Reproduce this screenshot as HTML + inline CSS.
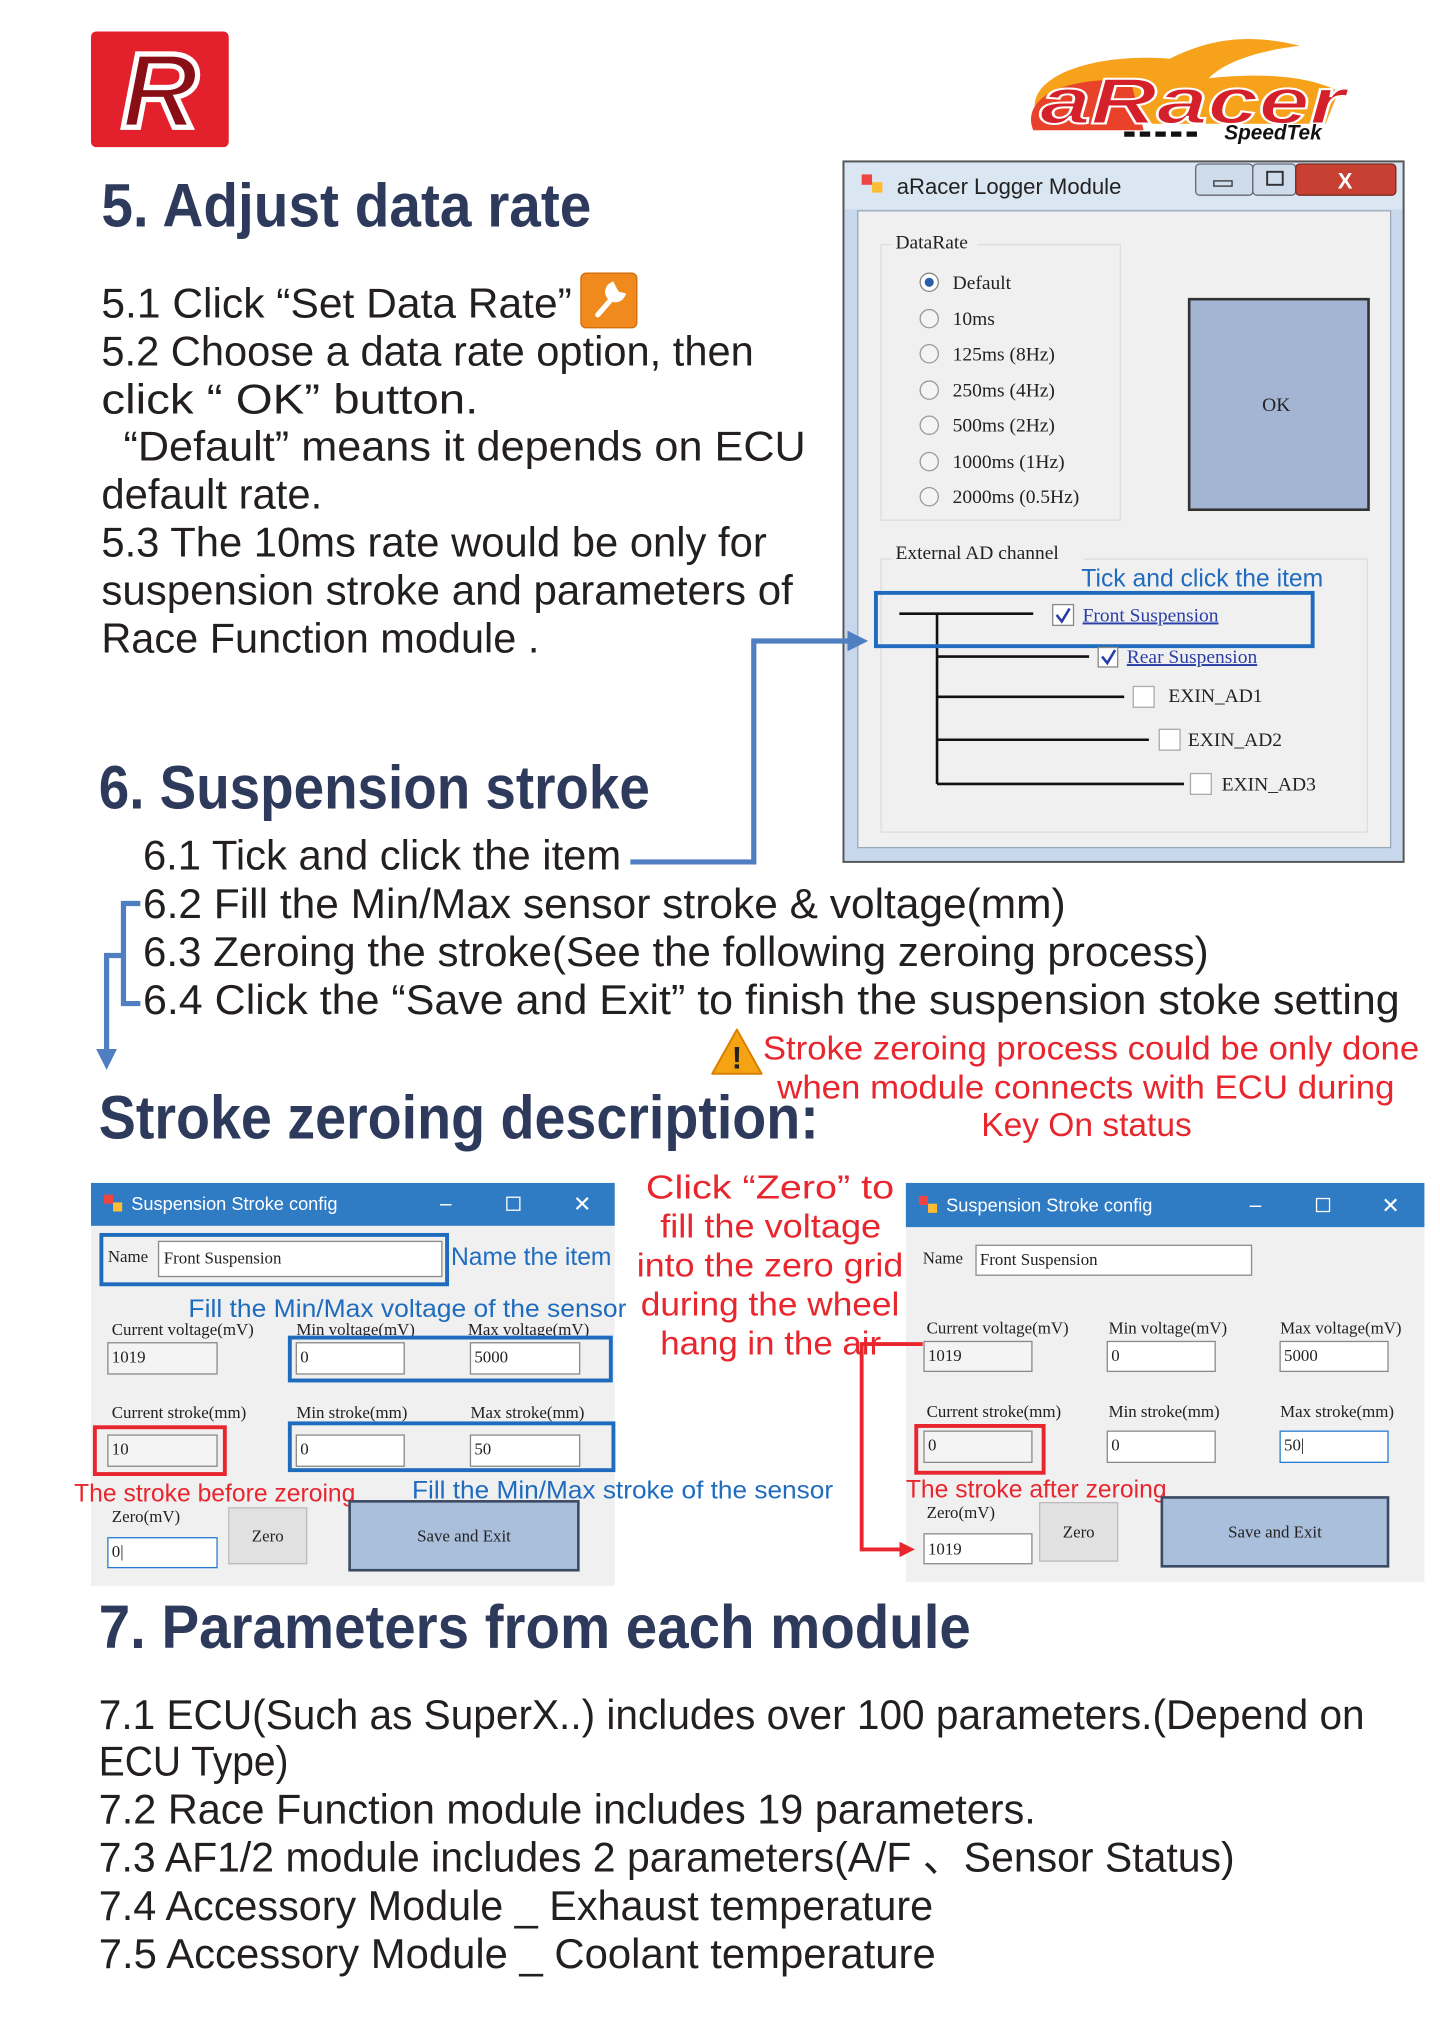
<!DOCTYPE html>
<html><head><meta charset="utf-8"><style>
html,body{margin:0;padding:0;background:#fff;}
svg{display:block;}
text{font-family:"Liberation Sans",sans-serif;}
.b{font-size:32px;fill:#231f20;}
.h{font-size:47px;fill:#2e3a5c;font-weight:bold;}
.r{font-size:26px;fill:#e8262e;}
.bl{font-size:19px;fill:#1f6cbf;}
.rs{font-size:19px;fill:#e8262e;}
.s{font-family:"Liberation Serif",serif;font-size:13px;fill:#222;}
.s2{font-family:"Liberation Serif",serif;font-size:15px;fill:#222;}
.tb{fill:#fff;stroke:#8a8a8a;stroke-width:1;}
.tg{fill:#f4f4f4;stroke:#8a8a8a;stroke-width:1;}
</style></head><body>
<svg width="1440" height="2036" viewBox="0 0 1108 1566.2" xmlns="http://www.w3.org/2000/svg">
<defs>
<marker id="ab" markerWidth="4" markerHeight="4" refX="2" refY="2" orient="auto" markerUnits="strokeWidth"><path d="M0,0 L4,2 L0,4 z" fill="#4f7fc0"/></marker>
<marker id="ar" markerWidth="4" markerHeight="4" refX="2" refY="2" orient="auto" markerUnits="strokeWidth"><path d="M0,0 L4,2 L0,4 z" fill="#e8262e"/></marker>
</defs>
<rect width="1108" height="1566.2" fill="#fff"/>

<!-- R logo -->
<rect x="70" y="24" width="106" height="89" rx="4" fill="#e3212c"/>
<text x="123" y="98" font-size="82" font-weight="bold" font-style="italic" fill="#8a0e15" stroke="#fff" stroke-width="4" text-anchor="middle">R</text>

<!-- aRacer logo -->
<path d="M800,95 C780,60 840,40 900,45 C930,30 960,25 1000,35 C960,40 940,50 930,60 C980,55 1010,60 1030,70 L1020,95 Z" fill="#f7a21b"/>
<path d="M795,100 C785,75 820,58 870,62 L880,100 Z" fill="#e8432a"/>
<text x="800" y="95" font-size="50" font-weight="bold" font-style="italic" fill="#d4202a" stroke="#fff" stroke-width="1.5" textLength="235" lengthAdjust="spacingAndGlyphs">aRacer</text>
<text x="942" y="107" font-size="16" font-weight="bold" font-style="italic" fill="#111">SpeedTek</text>
<path d="M865,103 h60" stroke="#111" stroke-width="4" stroke-dasharray="8,4"/>

<!-- Section 5 -->
<text class="h" x="78" y="174" textLength="377" lengthAdjust="spacingAndGlyphs">5. Adjust data rate</text>
<text class="b" x="78" y="244" textLength="362" lengthAdjust="spacingAndGlyphs">5.1 Click  “Set Data Rate”</text>
<rect x="447" y="210" width="43" height="42" rx="4" fill="#f08a1c" stroke="#d46b0a"/>
<path d="M460,242 L474,226 M471,219 a6,6 0 1,0 8,8 l-4,-1 -2,-3 z" stroke="#fff" stroke-width="4" fill="#fff" stroke-linecap="round"/>
<text class="b" x="78" y="281" textLength="502" lengthAdjust="spacingAndGlyphs">5.2 Choose a data rate option, then</text>
<text class="b" x="78" y="318" textLength="290" lengthAdjust="spacingAndGlyphs">click “  OK”   button.</text>
<text class="b" x="95" y="354" textLength="525" lengthAdjust="spacingAndGlyphs">“Default”   means it depends on ECU</text>
<text class="b" x="78" y="391" textLength="170" lengthAdjust="spacingAndGlyphs">default rate.</text>
<text class="b" x="78" y="428" textLength="512" lengthAdjust="spacingAndGlyphs">5.3 The 10ms rate would be only for</text>
<text class="b" x="78" y="465" textLength="532" lengthAdjust="spacingAndGlyphs">suspension stroke and parameters of</text>
<text class="b" x="78" y="502" textLength="337" lengthAdjust="spacingAndGlyphs">Race Function module .</text>

<!-- Logger dialog -->
<rect x="649" y="124" width="431" height="539" fill="#c8d8ec" stroke="#555" stroke-width="1.5"/>
<rect x="650" y="125" width="429" height="36" fill="#dbe6f3"/>
<rect x="663" y="134" width="8" height="8" fill="#e44"/><rect x="671" y="140" width="8" height="8" fill="#fb3"/>
<text x="690" y="149" font-size="17" fill="#222">aRacer Logger Module</text>
<rect x="920" y="126" width="44" height="24" rx="3" fill="#cfdcec" stroke="#667"/>
<rect x="934" y="139" width="14" height="4" fill="none" stroke="#333"/>
<rect x="964" y="126" width="33" height="24" rx="3" fill="#cfdcec" stroke="#667"/>
<rect x="975" y="132" width="12" height="10" fill="none" stroke="#333" stroke-width="1.5"/>
<rect x="997" y="126" width="77" height="24" rx="3" fill="#c84031" stroke="#7a2a22"/>
<text x="1035" y="145" font-size="17" font-weight="bold" fill="#fff" text-anchor="middle">X</text>
<rect x="660" y="162" width="410" height="490" fill="#f0f0f0" stroke="#9aa8b8"/>
<rect x="678" y="188" width="184" height="212" fill="none" stroke="#dcdcdc"/>
<rect x="686" y="178" width="66" height="16" fill="#f0f0f0"/>
<text class="s2" x="689" y="191">DataRate</text>
<g class="s2">
<circle cx="715" cy="217" r="7" fill="#fff" stroke="#888"/><circle cx="715" cy="217" r="3.5" fill="#2a5ea8"/>
<text class="s2" x="733" y="222">Default</text>
<circle cx="715" cy="245" r="7" fill="#f4f4f4" stroke="#999"/><text class="s2" x="733" y="250">10ms</text>
<circle cx="715" cy="272" r="7" fill="#f4f4f4" stroke="#999"/><text class="s2" x="733" y="277">125ms (8Hz)</text>
<circle cx="715" cy="300" r="7" fill="#f4f4f4" stroke="#999"/><text class="s2" x="733" y="305">250ms (4Hz)</text>
<circle cx="715" cy="327" r="7" fill="#f4f4f4" stroke="#999"/><text class="s2" x="733" y="332">500ms (2Hz)</text>
<circle cx="715" cy="355" r="7" fill="#f4f4f4" stroke="#999"/><text class="s2" x="733" y="360">1000ms (1Hz)</text>
<circle cx="715" cy="382" r="7" fill="#f4f4f4" stroke="#999"/><text class="s2" x="733" y="387">2000ms (0.5Hz)</text>
</g>
<rect x="915" y="230" width="138" height="162" fill="#a3b5d2" stroke="#333" stroke-width="2"/>
<text class="s2" x="982" y="316" text-anchor="middle">OK</text>
<rect x="678" y="430" width="374" height="210" fill="none" stroke="#dcdcdc"/>
<rect x="686" y="418" width="148" height="16" fill="#f0f0f0"/>
<text class="s2" x="689" y="430">External AD channel</text>
<text class="bl" x="832" y="451">Tick and click the item</text>
<path d="M692,472 H795 M721,472 V603 M721,505 H838 M721,536 H865 M721,569 H884 M721,603 H911" stroke="#111" stroke-width="2" fill="none"/>
<rect x="674" y="456" width="336" height="41" fill="none" stroke="#1f6cbf" stroke-width="3"/>
<rect x="810" y="465" width="16" height="16" fill="#fff" stroke="#888"/><path d="M813,473 l4,5 6,-10" stroke="#2a3ea8" stroke-width="2" fill="none"/>
<text class="s2" x="833" y="478" fill="#2a3ea8" style="fill:#2a3ea8" text-decoration="underline">Front Suspension</text>
<rect x="845" y="498" width="15" height="15" fill="#fff" stroke="#888"/><path d="M848,505 l4,5 6,-10" stroke="#2a3ea8" stroke-width="2" fill="none"/>
<text class="s2" x="867" y="510" style="fill:#2a3ea8" text-decoration="underline">Rear Suspension</text>
<rect x="872" y="528" width="16" height="16" fill="#fff" stroke="#aaa"/><text class="s2" x="899" y="540">EXIN_AD1</text>
<rect x="892" y="561" width="16" height="16" fill="#fff" stroke="#aaa"/><text class="s2" x="914" y="574">EXIN_AD2</text>
<rect x="916" y="595" width="16" height="16" fill="#fff" stroke="#aaa"/><text class="s2" x="940" y="608">EXIN_AD3</text>

<!-- Section 6 -->
<text class="h" x="76" y="622" textLength="424" lengthAdjust="spacingAndGlyphs">6. Suspension stroke</text>
<text class="b" x="110" y="669" textLength="368" lengthAdjust="spacingAndGlyphs">6.1 Tick and click the item</text>
<path d="M485,663 H580 V493 H660" stroke="#4f7fc0" stroke-width="4" fill="none" marker-end="url(#ab)"/>
<text class="b" x="110" y="706" textLength="710" lengthAdjust="spacingAndGlyphs">6.2 Fill the Min/Max sensor stroke &amp; voltage(mm)</text>
<text class="b" x="110" y="743" textLength="820" lengthAdjust="spacingAndGlyphs">6.3 Zeroing the stroke(See the following zeroing process)</text>
<text class="b" x="110" y="780" textLength="967" lengthAdjust="spacingAndGlyphs">6.4 Click the  “Save and Exit”  to finish the suspension stoke setting</text>
<path d="M108,695 H95 V772 H108 M95,735 H82 V815" stroke="#4f7fc0" stroke-width="4" fill="none" marker-end="url(#ab)"/>

<!-- warning -->
<path d="M567,792 L586,826 L548,826 Z" fill="#f5a312" stroke="#d97f00" stroke-width="1.5" stroke-linejoin="round"/>
<text x="567" y="822" font-size="24" font-weight="bold" fill="#222" text-anchor="middle">!</text>
<text class="r" x="587" y="815" textLength="505" lengthAdjust="spacingAndGlyphs">Stroke zeroing process could be only done</text>
<text class="r" x="598" y="845" textLength="475" lengthAdjust="spacingAndGlyphs">when module connects with ECU during</text>
<text class="r" x="755" y="874" textLength="162" lengthAdjust="spacingAndGlyphs">Key On status</text>
<text class="h" x="76" y="876" textLength="554" lengthAdjust="spacingAndGlyphs">Stroke zeroing description:</text>

<!-- Left dialog -->
<rect x="70" y="943" width="403" height="277" fill="#f0f0f0"/>
<rect x="70" y="910" width="403" height="33" fill="#2f7bc4"/>
<rect x="80" y="919" width="7" height="7" fill="#e44"/><rect x="87" y="925" width="7" height="7" fill="#fb3"/>
<text x="101" y="931" font-size="14" fill="#fff">Suspension Stroke config</text>
<text x="343" y="931" font-size="16" fill="#fff" text-anchor="middle">–</text>
<rect x="390" y="921" width="10" height="10" fill="none" stroke="#fff"/>
<text x="448" y="932" font-size="17" fill="#fff" text-anchor="middle">✕</text>
<text class="s" x="83" y="971">Name</text>
<rect class="tb" x="122" y="955" width="218" height="27"/><text class="s" x="126" y="972">Front Suspension</text>
<rect x="78" y="950" width="266" height="38" fill="none" stroke="#1f6cbf" stroke-width="3"/>
<text class="bl" x="347" y="973">Name the item</text>
<text class="bl" x="145" y="1013" textLength="337" lengthAdjust="spacingAndGlyphs">Fill the Min/Max voltage of the sensor</text>
<text class="s" x="86" y="1027">Current voltage(mV)</text><text class="s" x="228" y="1027">Min voltage(mV)</text><text class="s" x="360" y="1027">Max voltage(mV)</text>
<rect class="tg" x="83" y="1033" width="84" height="24"/><text class="s" x="86" y="1048">1019</text>
<rect class="tb" x="228" y="1033" width="83" height="24"/><text class="s" x="231" y="1048">0</text>
<rect class="tb" x="362" y="1033" width="84" height="24"/><text class="s" x="365" y="1048">5000</text>
<rect x="223" y="1029" width="247" height="33" fill="none" stroke="#1f6cbf" stroke-width="3"/>
<text class="s" x="86" y="1091">Current stroke(mm)</text><text class="s" x="228" y="1091">Min stroke(mm)</text><text class="s" x="362" y="1091">Max stroke(mm)</text>
<rect class="tg" x="83" y="1104" width="84" height="24"/><text class="s" x="86" y="1119">10</text>
<rect class="tb" x="228" y="1104" width="83" height="24"/><text class="s" x="231" y="1119">0</text>
<rect class="tb" x="362" y="1104" width="84" height="24"/><text class="s" x="365" y="1119">50</text>
<rect x="73" y="1098" width="100" height="36" fill="none" stroke="#e8262e" stroke-width="3"/>
<rect x="223" y="1095" width="249" height="36" fill="none" stroke="#1f6cbf" stroke-width="3"/>
<text class="rs" x="57" y="1155">The stroke before zeroing</text>
<text class="bl" x="317" y="1153" textLength="324" lengthAdjust="spacingAndGlyphs">Fill the Min/Max stroke of the sensor</text>
<text class="s" x="86" y="1171">Zero(mV)</text>
<rect x="83" y="1183" width="84" height="23" fill="#fff" stroke="#2a7bd0"/><text class="s" x="86" y="1198">0|</text>
<rect x="176" y="1160" width="60" height="43" fill="#e1e1e1" stroke="#bbb"/><text class="s" x="206" y="1186" text-anchor="middle">Zero</text>
<rect x="269" y="1155" width="176" height="53" fill="#a9bfdc" stroke="#3c4a63" stroke-width="2"/><text class="s" x="357" y="1186" text-anchor="middle">Save and Exit</text>

<!-- center red text -->
<text class="r" x="497" y="922" textLength="191" lengthAdjust="spacingAndGlyphs">Click  “Zero”  to</text>
<text class="r" x="508" y="952" textLength="170" lengthAdjust="spacingAndGlyphs">fill the voltage</text>
<text class="r" x="490" y="982" textLength="205" lengthAdjust="spacingAndGlyphs">into the zero grid</text>
<text class="r" x="493" y="1012" textLength="199" lengthAdjust="spacingAndGlyphs">during the wheel</text>
<text class="r" x="508" y="1042" textLength="170" lengthAdjust="spacingAndGlyphs">hang in the air</text>

<!-- Right dialog -->
<rect x="697" y="944" width="399" height="273" fill="#f0f0f0"/>
<rect x="697" y="910" width="399" height="34" fill="#2f7bc4"/>
<rect x="707" y="920" width="7" height="7" fill="#e44"/><rect x="714" y="926" width="7" height="7" fill="#fb3"/>
<text x="728" y="932" font-size="14" fill="#fff">Suspension Stroke config</text>
<text x="966" y="932" font-size="16" fill="#fff" text-anchor="middle">–</text>
<rect x="1013" y="922" width="10" height="10" fill="none" stroke="#fff"/>
<text x="1070" y="933" font-size="17" fill="#fff" text-anchor="middle">✕</text>
<text class="s" x="710" y="972">Name</text>
<rect class="tb" x="751" y="958" width="212" height="23"/><text class="s" x="754" y="973">Front Suspension</text>
<text class="s" x="713" y="1026">Current voltage(mV)</text><text class="s" x="853" y="1026">Min voltage(mV)</text><text class="s" x="985" y="1026">Max voltage(mV)</text>
<rect class="tg" x="711" y="1032" width="83" height="23"/><text class="s" x="714" y="1047">1019</text>
<rect class="tb" x="852" y="1032" width="83" height="23"/><text class="s" x="855" y="1047">0</text>
<rect class="tb" x="985" y="1032" width="83" height="23"/><text class="s" x="988" y="1047">5000</text>
<text class="s" x="713" y="1090">Current stroke(mm)</text><text class="s" x="853" y="1090">Min stroke(mm)</text><text class="s" x="985" y="1090">Max stroke(mm)</text>
<rect class="tg" x="711" y="1101" width="83" height="24"/><text class="s" x="714" y="1116">0</text>
<rect class="tb" x="852" y="1101" width="83" height="24"/><text class="s" x="855" y="1116">0</text>
<rect x="985" y="1101" width="83" height="24" fill="#fff" stroke="#2a7bd0"/><text class="s" x="988" y="1116">50|</text>
<rect x="705" y="1097" width="98" height="36" fill="none" stroke="#e8262e" stroke-width="3"/>
<text class="rs" x="697" y="1152">The stroke after zeroing</text>
<text class="s" x="713" y="1168">Zero(mV)</text>
<rect class="tb" x="711" y="1180" width="83" height="23"/><text class="s" x="714" y="1196">1019</text>
<rect x="800" y="1156" width="60" height="45" fill="#e1e1e1" stroke="#bbb"/><text class="s" x="830" y="1183" text-anchor="middle">Zero</text>
<rect x="894" y="1152" width="174" height="53" fill="#a9bfdc" stroke="#3c4a63" stroke-width="2"/><text class="s" x="981" y="1183" text-anchor="middle">Save and Exit</text>
<path d="M710,1034 H663 V1192 H698" stroke="#e8262e" stroke-width="3" fill="none" marker-end="url(#ar)"/>

<!-- Section 7 -->
<text class="h" x="76" y="1268" textLength="671" lengthAdjust="spacingAndGlyphs">7. Parameters from each module</text>
<text class="b" x="76" y="1330" textLength="974" lengthAdjust="spacingAndGlyphs">7.1 ECU(Such as SuperX..) includes over 100 parameters.(Depend on</text>
<text class="b" x="76" y="1366" textLength="146" lengthAdjust="spacingAndGlyphs">ECU Type)</text>
<text class="b" x="76" y="1403" textLength="721" lengthAdjust="spacingAndGlyphs">7.2 Race Function module includes 19 parameters.</text>
<text class="b" x="76" y="1440" textLength="874" lengthAdjust="spacingAndGlyphs">7.3 AF1/2 module includes 2 parameters(A/F 、Sensor Status)</text>
<text class="b" x="76" y="1477" textLength="642" lengthAdjust="spacingAndGlyphs">7.4 Accessory Module _ Exhaust temperature</text>
<text class="b" x="76" y="1514" textLength="644" lengthAdjust="spacingAndGlyphs">7.5 Accessory Module _ Coolant temperature</text>
</svg>
</body></html>
